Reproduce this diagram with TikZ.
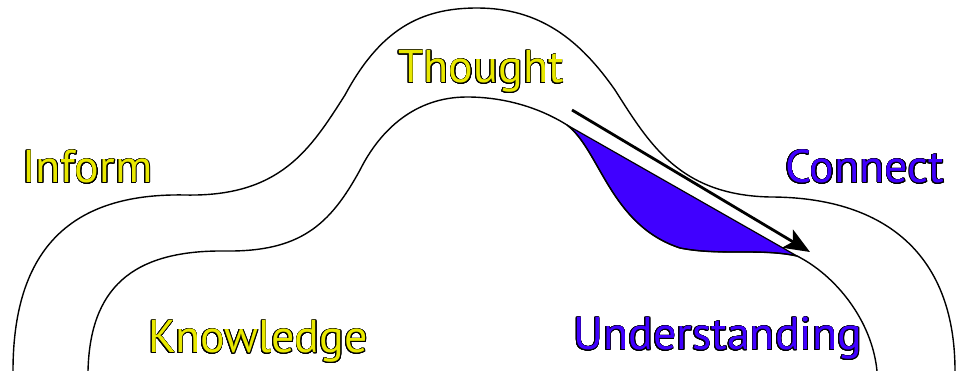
\documentclass[tikz,border=0pt]{standalone}
\usepackage{fontspec}
\setmainfont{PT Sans}
\usepackage{contour}
\contourlength{0.75pt}
\contournumber{24}
\usetikzlibrary{arrows.meta}
\definecolor{tyellow}{RGB}{232,232,0}
\definecolor{tblue}{RGB}{64,0,255}
\tikzset{
  curve/.style={line width=1.4pt, black},
  lbl/.style={anchor=base west, inner sep=0pt, font=\fontsize{46}{50}\selectfont},
}
\begin{document}
\begin{tikzpicture}[x=1pt,y=-1pt]
\useasboundingbox (0,0) rectangle (959,371);
% outer curve
\draw[curve] (13,371) .. controls (13,240) and (80,193) .. (185,195)
  .. controls (280,197) and (310,150) .. (345,95)
  .. controls (380,30) and (420,8) .. (477,8)
  .. controls (540,8) and (580,40) .. (615,90)
  .. controls (650,145) and (680,195) .. (770,197)
  .. controls (880,197) and (955,250) .. (955,371);
% blue gap fill
\filldraw[fill=tblue, draw=black, line width=1.2pt] (567,125)
  .. controls (600,150) and (610,225) .. (680,248)
  .. controls (720,256) and (760,248) .. (797,256) -- cycle;
% inner curve
\draw[curve] (88,371) .. controls (90,290) and (130,250) .. (225,251)
  .. controls (300,252) and (330,225) .. (360,170)
  .. controls (380,130) and (415,97) .. (467,97)
  .. controls (505,97) and (540,108) .. (567,125)
  .. controls (600,150) and (610,225) .. (680,248)
  .. controls (720,256) and (760,248) .. (797,256)
  .. controls (835,275) and (872,320) .. (877,371);
% arrow
\coordinate (as) at (572,110);
\coordinate (ae) at (810,252);
\draw[line width=2.8pt, -{Stealth[length=26pt,width=21pt,inset=6pt]}] (as) -- (ae);
% labels
\node[lbl] (inform) at (22,183) {\textcolor{tyellow}{\contour{black}{Inform}}};
\node[lbl] (thought) at (398,83) {\textcolor{tyellow}{\contour{black}{Thought}}};
\node[lbl] (connect) at (785,183) {\textcolor{tblue}{\contour{black}{Connect}}};
\node[lbl] (knowledge) at (148,353) {\textcolor{tyellow}{\contour{black}{Knowledge}}};
\node[lbl] (understanding) at (573,350) {\textcolor{tblue}{\contour{black}{Understanding}}};
\end{tikzpicture}
\end{document}
